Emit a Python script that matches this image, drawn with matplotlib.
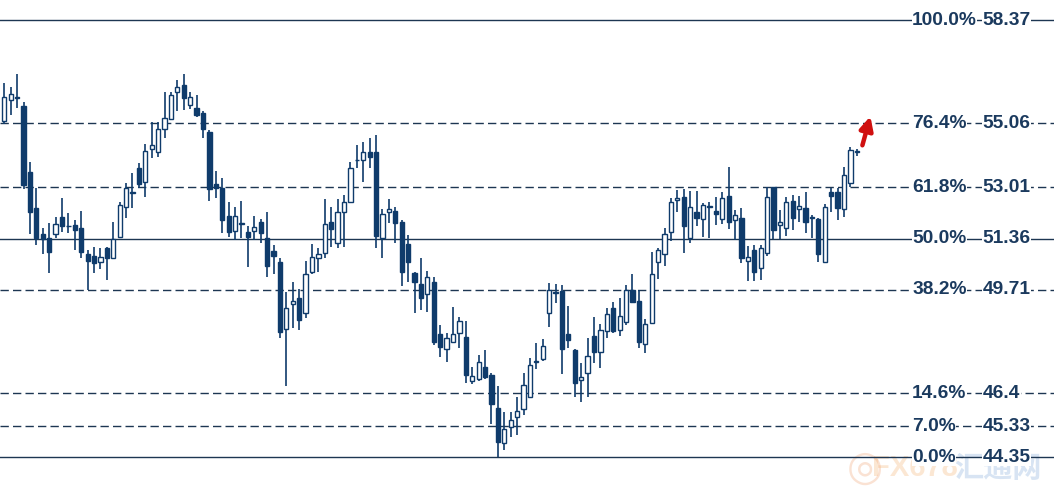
import matplotlib.pyplot as plt
import matplotlib.transforms as mtransforms
import numpy as np

# Fibonacci levels
fib_pct = ['100.0%', '76.4%', '61.8%', '50.0%', '38.2%', '14.6%', '7.0%', '0.0%']
fib_price = [58.37, 55.06, 53.01, 51.36, 49.71, 46.4, 45.33, 44.35]
fib_label = ['58.37', '55.06', '53.01', '51.36', '49.71', '46.4', '45.33', '44.35']
fib_style = ['-', '--', '--', '-', '--', '--', '--', '-']

# daily candles
opens = [55.13, 55.80, 55.90, 55.61, 53.49, 52.34, 51.51, 51.38, 51.51, 52.05,
         51.76, 51.79, 51.70, 50.86, 50.80, 50.61, 51.06, 50.73, 51.41, 52.37,
         52.82, 53.62, 53.17, 54.23, 54.14, 54.87, 55.19, 56.06, 56.29, 55.64,
         55.55, 55.39, 54.78, 53.11, 52.98, 52.08, 51.60, 51.83, 51.57, 51.60,
         51.89, 51.38, 50.96, 50.61, 48.47, 49.26, 49.45, 48.97, 50.29, 50.73,
         50.89, 51.89, 51.22, 52.21, 52.53, 53.88, 53.88, 54.14, 54.14, 51.38,
         52.21, 52.24, 51.89, 51.18, 50.25, 49.90, 49.58, 49.96, 48.30, 47.81,
         48.04, 48.33, 48.20, 46.79, 46.85, 47.24, 46.98, 45.92, 44.80, 45.31,
         45.63, 45.89, 46.28, 47.40, 47.49, 48.97, 49.61, 49.68, 48.30, 47.78,
         46.82, 47.05, 48.23, 47.72, 48.39, 49.13, 48.42, 48.68, 49.71, 49.36,
         47.98, 48.65, 50.61, 50.86, 51.57, 52.60, 52.69, 51.38, 52.21, 51.99,
         52.37, 52.24, 51.99, 52.72, 51.95, 52.02, 50.64, 50.99, 50.41, 50.89,
         53.01, 51.79, 51.70, 52.56, 52.31, 52.34, 52.02, 51.99, 50.61, 52.85,
         52.85, 52.31, 53.14, 54.14]
closes = [55.90, 56.00, 55.87, 53.08, 52.21, 51.38, 51.34, 50.93, 51.83, 51.76,
          51.75, 51.63, 50.93, 50.64, 50.57, 50.77, 50.73, 51.34, 52.43, 52.98,
          52.83, 53.11, 54.17, 54.36, 54.87, 55.23, 55.96, 56.22, 55.87, 55.90,
          55.32, 54.87, 52.95, 52.98, 51.95, 51.57, 52.08, 51.84, 51.41, 51.73,
          51.54, 50.48, 50.80, 48.36, 49.13, 49.36, 48.75, 50.22, 50.77, 50.86,
          51.83, 51.66, 52.21, 52.53, 53.62, 53.87, 54.14, 53.98, 51.44, 52.15,
          52.31, 51.86, 50.29, 50.61, 49.96, 49.45, 50.13, 48.04, 47.88, 48.17,
          48.30, 48.71, 46.98, 46.95, 47.40, 46.92, 46.05, 44.83, 45.25, 45.54,
          45.83, 46.66, 47.30, 47.41, 47.91, 49.71, 49.62, 47.81, 48.10, 46.72,
          46.92, 47.59, 47.72, 48.42, 48.94, 48.39, 48.87, 49.71, 49.32, 48.04,
          48.62, 50.22, 50.99, 51.50, 52.53, 52.66, 51.76, 52.37, 52.02, 52.43,
          52.38, 52.15, 52.66, 51.89, 52.11, 50.73, 50.77, 50.29, 51.06, 52.69,
          51.63, 51.89, 52.53, 52.02, 52.40, 51.89, 52.03, 50.86, 52.37, 52.72,
          52.34, 53.40, 54.20, 54.15]
highs = [56.35, 56.22, 56.64, 55.74, 53.82, 52.98, 51.70, 51.86, 52.05, 52.66,
         52.18, 51.95, 52.24, 50.99, 51.09, 51.06, 51.09, 51.89, 52.53, 53.14,
         53.46, 53.78, 54.39, 55.10, 55.10, 56.06, 56.06, 56.45, 56.64, 56.06,
         55.96, 55.45, 54.84, 53.53, 53.30, 52.53, 52.37, 52.56, 51.76, 52.08,
         51.99, 52.21, 51.15, 50.73, 49.64, 49.96, 49.74, 50.64, 51.18, 51.06,
         52.63, 52.37, 52.63, 52.76, 53.82, 54.36, 54.46, 54.58, 54.68, 52.31,
         52.63, 52.37, 51.95, 51.47, 50.29, 50.73, 50.32, 50.13, 48.58, 48.33,
         49.16, 48.84, 48.71, 47.24, 47.62, 47.78, 47.04, 46.63, 45.79, 45.79,
         46.28, 47.04, 47.53, 48.01, 48.14, 49.93, 49.90, 49.87, 49.19, 47.80,
         47.37, 48.17, 48.84, 48.61, 49.13, 49.32, 49.45, 49.87, 50.22, 49.71,
         48.78, 50.93, 51.06, 51.70, 52.66, 52.92, 52.95, 52.88, 52.88, 52.50,
         52.53, 52.69, 52.85, 53.65, 52.27, 52.34, 51.12, 51.15, 51.15, 53.01,
         53.02, 52.27, 52.69, 52.76, 52.72, 52.85, 52.11, 52.02, 52.47, 52.98,
         52.98, 53.65, 54.30, 54.23]
lows = [55.03, 55.32, 55.55, 52.95, 51.51, 51.15, 50.86, 50.25, 51.38, 51.57,
        51.54, 50.99, 50.73, 49.71, 50.25, 50.38, 50.03, 50.72, 51.38, 52.02,
        52.34, 52.98, 52.69, 53.94, 53.98, 54.58, 55.16, 55.45, 55.48, 55.51,
        55.26, 54.58, 52.56, 52.66, 51.54, 51.41, 51.31, 51.38, 50.45, 51.31,
        51.22, 50.13, 50.22, 48.17, 46.63, 48.49, 48.43, 48.81, 50.22, 50.29,
        50.73, 51.09, 51.06, 51.09, 52.50, 53.62, 53.17, 53.62, 51.06, 50.73,
        51.86, 51.22, 49.84, 49.96, 48.97, 49.07, 49.00, 47.94, 47.56, 47.40,
        48.01, 47.85, 46.72, 46.69, 46.79, 46.85, 45.41, 44.35, 44.58, 44.99,
        45.06, 45.70, 46.24, 47.17, 47.43, 48.52, 49.29, 47.01, 47.85, 46.28,
        46.12, 46.28, 47.37, 47.21, 48.17, 48.33, 48.23, 48.58, 49.29, 47.85,
        47.69, 48.64, 50.06, 50.48, 51.28, 52.21, 50.89, 51.22, 51.76, 51.41,
        51.38, 51.79, 51.83, 51.66, 51.31, 50.57, 49.99, 49.99, 50.03, 50.80,
        51.34, 51.34, 51.44, 51.63, 51.89, 51.54, 51.38, 50.61, 50.57, 52.21,
        51.95, 52.05, 53.01, 54.01]

navy = '#0f3b6b'
line_col = '#1d3652'
text_col = '#1b3a5e'
label_font = ['Liberation Sans', 'DejaVu Sans']

fig = plt.figure(figsize=(10.54, 4.90), dpi=100)
ax = fig.add_axes([0, 0, 1, 1])

o = np.array(opens)
c = np.array(closes)
h = np.array(highs)
l = np.array(lows)
x = np.arange(len(o))
up = c >= o

# level lines
for p, ls in zip(fib_price, fib_style):
    if ls == '--':
        ax.axhline(p, color=line_col, lw=1.0, ls='--', dashes=(6, 3), zorder=1)
    else:
        ax.axhline(p, color=line_col, lw=1.0, zorder=1)

# candles
ax.vlines(x, l, h, color=navy, lw=1.2, zorder=2)
bottoms = np.minimum(o, c)
heights = np.maximum(np.abs(c - o), 0.02)
ax.bar(x[up], heights[up], bottom=bottoms[up], width=0.66, color='white',
       edgecolor=navy, lw=1.0, zorder=3)
ax.bar(x[~up], heights[~up], bottom=bottoms[~up], width=0.66, color=navy,
       edgecolor=navy, lw=1.0, zorder=3)

# level labels
trans = mtransforms.blended_transform_factory(ax.transAxes, ax.transData)
for pct, p, lab in zip(fib_pct, fib_price, fib_label):
    ax.text(0.8655, p, pct, transform=trans, ha='left', va='center',
            fontsize=13.8, fontweight='bold', color=text_col, family=label_font,
            bbox=dict(facecolor='white', edgecolor='none', pad=0.3), zorder=5)
    ax.text(0.9325, p, lab, transform=trans, ha='left', va='center',
            fontsize=13.8, fontweight='bold', color=text_col, family=label_font,
            bbox=dict(facecolor='white', edgecolor='none', pad=0.3), zorder=5)

# red arrow
ax.annotate('', xy=(0.8265, 0.768), xytext=(0.8175, 0.698), xycoords='axes fraction',
            arrowprops=dict(arrowstyle='-|>,head_length=0.8,head_width=0.4',
                            color='#d01010', lw=3.2), zorder=6)

# faint watermark
ax.text(0.803, 0.045, '\u25CE', transform=ax.transAxes, fontsize=30, color='#f0a070',
        alpha=0.3, ha='left', va='center', zorder=0)
ax.text(0.827, 0.045, 'FX678', transform=ax.transAxes, fontsize=21, fontweight='bold',
        color='#f5b070', alpha=0.3, ha='left', va='center', zorder=0, family=label_font)
ax.text(0.905, 0.045, '汇通网', transform=ax.transAxes, fontsize=21, fontweight='bold',
        color='#7fa8d8', alpha=0.3, ha='left', va='center', zorder=0,
        family=['Noto Sans CJK SC', 'DejaVu Sans'])

ax.set_xlim(-0.67, -0.67 + 1054 / 6.41)
ax.set_ylim(58.37 - 470 / 31.17, 58.37 + 20 / 31.17)
ax.axis('off')

fig.savefig('out.png', dpi=100, facecolor='white')
